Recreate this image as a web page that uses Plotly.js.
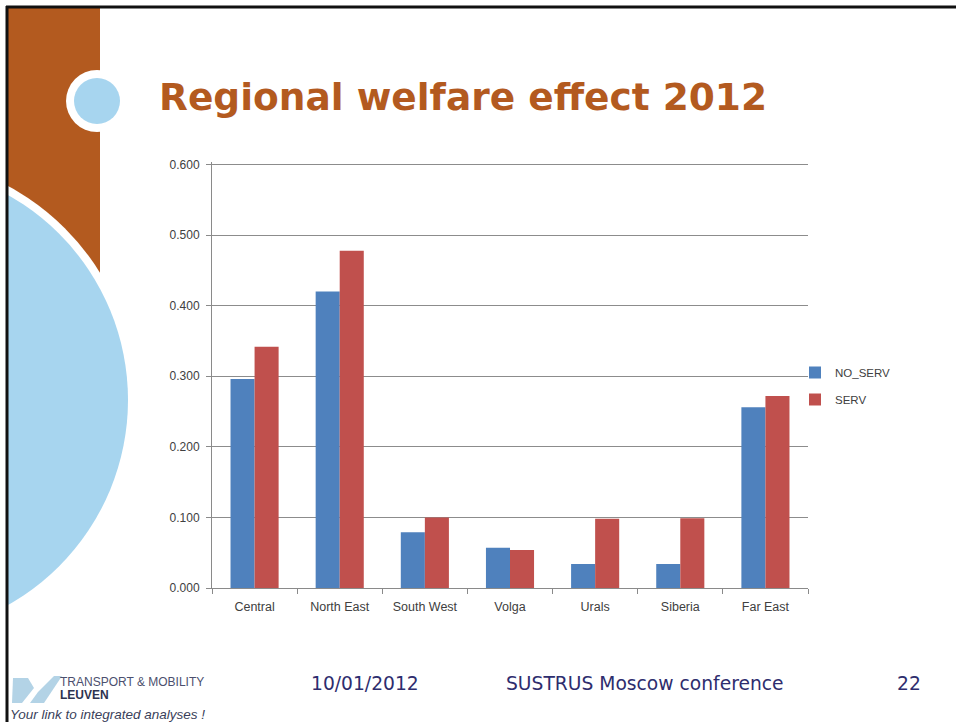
<!DOCTYPE html>
<html>
<head>
<meta charset="utf-8">
<script src="https://cdn.plot.ly/plotly-3.0.1.min.js"></script>
<style>html,body{margin:0;padding:0;background:#fff;}#chart{width:956px;height:722px;}</style>
</head>
<body>
<div id="chart"></div>
<script>
// ---- data ----
var categories = ["Central", "North East", "South West", "Volga", "Urals", "Siberia", "Far East"];
var noServ = [0.296, 0.420, 0.079, 0.057, 0.034, 0.034, 0.256];
var serv   = [0.342, 0.478, 0.100, 0.054, 0.098, 0.099, 0.272];
var seriesNames = ["NO_SERV", "SERV"];
var yTickVals = [0, 0.1, 0.2, 0.3, 0.4, 0.5, 0.6];
var titleText = "Regional welfare effect 2012";
var footerDate = "10/01/2012";
var footerConf = "SUSTRUS Moscow conference";
var footerPage = "22";

// ---- layout geometry (pixels) ----
var W = 956, H = 722;
var PL = 212, PR = 808, PT = 162, PB = 588;
function X(px) { return (px - PL) / (PR - PL); }
function Y(py) { return (PB - py) / (PB - PT); }

var brown = "#B35A1F";
var lightBlue = "#A7D5EF";
var navy = "#2E2D6E";

function circ(cx, cy, r, color) {
  return {type: "circle", xref: "paper", yref: "paper", layer: "below",
    x0: X(cx - r), x1: X(cx + r), y0: Y(cy + r), y1: Y(cy - r),
    fillcolor: color, line: {width: 0}};
}
function rect(x0, y0, x1, y1, color) {
  return {type: "rect", xref: "paper", yref: "paper", layer: "below",
    x0: X(x0), x1: X(x1), y0: Y(y1), y1: Y(y0), fillcolor: color, line: {width: 0}};
}
function pathPx(pts, color) {
  var d = pts.map(function (p, i) { return (i ? "L" : "M") + X(p[0]) + "," + Y(p[1]); }).join(" ") + " Z";
  return {type: "path", xref: "paper", yref: "paper", layer: "below", path: d,
    fillcolor: color, line: {width: 0}};
}

var shapes = [
  rect(7, 7, 100, 320, brown),
  circ(-107, 400, 243, "#ffffff"),
  circ(-107, 400, 235, lightBlue),
  rect(-400, 0, 6, 722, "#ffffff"),
  circ(97, 101, 31, "#ffffff"),
  circ(97, 101, 23, lightBlue),
  // logo mark
  pathPx([[13, 678], [28, 678], [34, 688], [22, 703], [12, 703]], "#B3D3E6"),
  pathPx([[38, 692], [54, 676], [62, 676], [44, 703], [30, 703]], "#B3D3E6"),
  // slide frame
  {type: "line", xref: "paper", yref: "paper", layer: "above", x0: X(6), x1: X(960), y0: Y(7), y1: Y(7), line: {color: "#111", width: 3}},
  {type: "line", xref: "paper", yref: "paper", layer: "above", x0: X(7), x1: X(7), y0: Y(6), y1: Y(730), line: {color: "#111", width: 3}}
];

var annotations = [
  {text: "<b>" + titleText + "</b>", xref: "paper", yref: "paper", x: X(157), y: Y(97),
   xanchor: "left", yanchor: "middle", showarrow: false,
   font: {family: "DejaVu Sans, Verdana, sans-serif", size: 37.5, color: brown}},
  {text: footerDate, xref: "paper", yref: "paper", x: X(309), y: Y(683), xanchor: "left", yanchor: "middle",
   showarrow: false, font: {family: "DejaVu Sans, Verdana, sans-serif", size: 18.7, color: navy}},
  {text: footerConf, xref: "paper", yref: "paper", x: X(504), y: Y(683), xanchor: "left", yanchor: "middle",
   showarrow: false, font: {family: "DejaVu Sans, Verdana, sans-serif", size: 18.7, color: navy}},
  {text: footerPage, xref: "paper", yref: "paper", x: X(923), y: Y(683), xanchor: "right", yanchor: "middle",
   showarrow: false, font: {family: "DejaVu Sans, Verdana, sans-serif", size: 18.7, color: navy}},
  {text: "TRANSPORT &amp; MOBILITY", xref: "paper", yref: "paper", x: X(58), y: Y(682), xanchor: "left", yanchor: "middle",
   showarrow: false, font: {family: "Liberation Sans Narrow, Liberation Sans, sans-serif", size: 12, color: "#4B4F6E"}},
  {text: "<b>LEUVEN</b>", xref: "paper", yref: "paper", x: X(58), y: Y(695), xanchor: "left", yanchor: "middle",
   showarrow: false, font: {family: "Liberation Sans Narrow, Liberation Sans, sans-serif", size: 12, color: "#2E3350"}},
  {text: "<i>Your link to integrated analyses !</i>", xref: "paper", yref: "paper", x: X(8), y: Y(714), xanchor: "left", yanchor: "middle",
   showarrow: false, font: {family: "Liberation Sans Narrow, Liberation Sans, sans-serif", size: 13.5, color: "#3A3F5A"}}
];

var data = [
  {type: "bar", name: seriesNames[0], x: categories, y: noServ, marker: {color: "#4F81BD"}, legendgroup: "a", hoverinfo: "none"},
  {type: "bar", name: seriesNames[1], x: categories, y: serv, marker: {color: "#C0504D"}, legendgroup: "b", hoverinfo: "none"}
];

var layout = {
  width: W, height: H,
  margin: {l: PL, r: W - PR, t: PT, b: H - PB, pad: 0},
  paper_bgcolor: "#ffffff", plot_bgcolor: "rgba(0,0,0,0)",
  barmode: "group", bargap: 0.435, bargroupgap: 0,
  font: {family: "Liberation Sans, Arial, sans-serif", color: "#404040"},
  xaxis: {
    type: "category", showgrid: false, showline: true, linecolor: "#8a8a8a", linewidth: 1,
    ticks: "outside", tickson: "boundaries", ticklen: 5, tickcolor: "#8a8a8a",
    ticklabelstandoff: 7,
    tickfont: {size: 12.5, color: "#404040"}, fixedrange: true
  },
  yaxis: {
    range: [0, 0.6036], tickvals: yTickVals, tickformat: ".3f", showgrid: true, gridcolor: "#8c8c8c", gridwidth: 1,
    showline: true, linecolor: "#8a8a8a", linewidth: 1, zeroline: false,
    ticks: "outside", ticklen: 5, tickcolor: "#8a8a8a", ticklabelstandoff: 4,
    tickfont: {size: 12, color: "#404040"}, fixedrange: true
  },
  showlegend: true,
  legend: {x: X(795), xanchor: "left", y: Y(358), yanchor: "top", traceorder: "grouped", tracegroupgap: 8,
    font: {size: 11.5, color: "#404040"}, bgcolor: "rgba(0,0,0,0)"},
  shapes: shapes,
  annotations: annotations
};

Plotly.newPlot("chart", data, layout, {displayModeBar: false, staticPlot: true});
</script>
</body>
</html>
